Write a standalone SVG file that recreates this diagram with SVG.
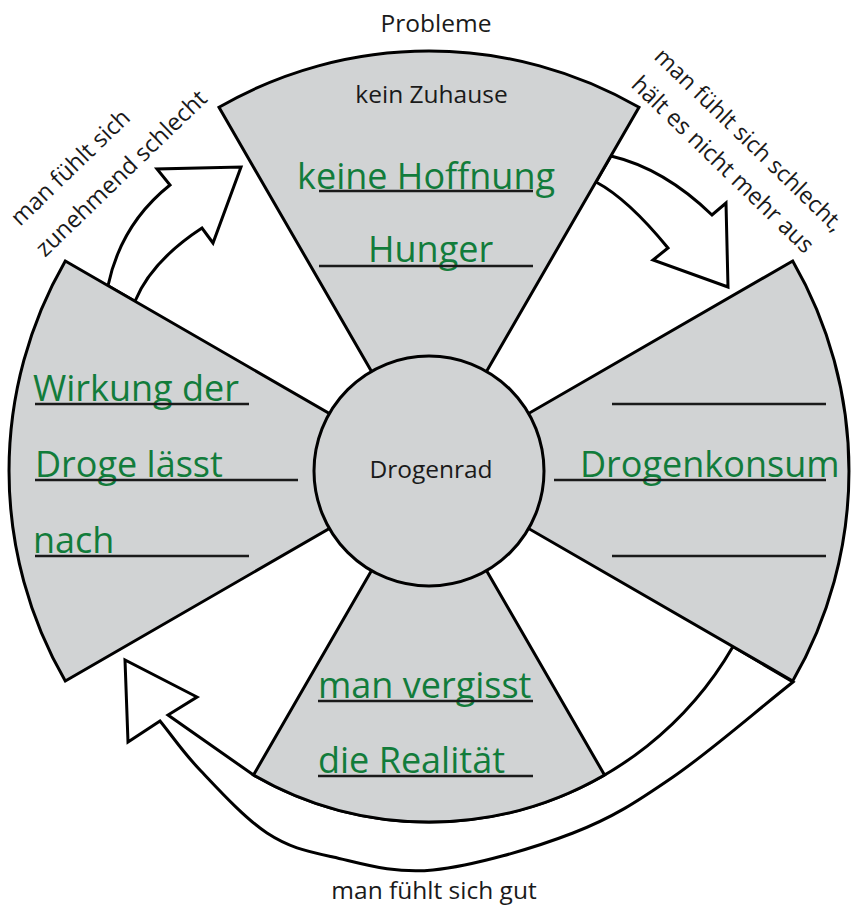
<svg xmlns="http://www.w3.org/2000/svg" width="859" height="908" viewBox="0 0 859 908">
<style>
.sec{fill:#d1d3d4;stroke:#000;stroke-width:3;stroke-linejoin:miter}
.arr{fill:#fff;stroke:#000;stroke-width:3;stroke-linejoin:miter}
.lbl{font-family:"Open Sans","Liberation Sans",sans-serif;font-size:24.5px;fill:#1a1a1a}
.rot{font-family:"Open Sans","Liberation Sans",sans-serif;font-size:23.5px;fill:#1a1a1a}
.hw{font-family:"Open Sans","Liberation Sans",sans-serif;font-size:36px;fill:#127c3b}
.ul{stroke:#1a1a1a;stroke-width:2.5;fill:none}
</style>
<rect width="859" height="908" fill="#fff"/>
<g id="connectors">
  <path class="arr" d="M733 646.5 L793 682 C753 713.7 709.7 751.8 673 777 C636.3 802.2 613 817.5 573 833 C533 848.5 473 866 433 870 C393 874 360.7 863.2 333 857 C305.3 850.8 289.2 847.5 267 833 C244.8 818.5 217.8 788.7 200 770 C182.2 751.3 173.3 737.3 160 721 L128 742 L125 660 L197 697 L168 715 L253.5 775 A351 351 0 0 0 733 646.5 Z"/>
  <path class="arr" d="M108 285.7 Q121 224 170 185 L157 169 L241 167 L213 243 L202 228 Q151.5 261 135 301.2 Z"/>
  <path class="arr" d="M611 156 Q664 168.5 712 215 L726 203 L728 287 L653 260 L668 248 Q628 199 596 182 Z"/>
  <text class="rot" transform="translate(20,227) rotate(-44)">man fühlt sich</text>
  <text class="rot" transform="translate(45,258) rotate(-44)">zunehmend schlecht</text>
  <text class="rot" style="font-size:23px" transform="translate(653,58) rotate(44)">man fühlt sich schlecht,</text>
  <text class="rot" transform="translate(630,86) rotate(44)">hält es nicht mehr aus</text>
  <text class="lbl" x="434" y="899" text-anchor="middle">man fühlt sich gut</text>
</g>
<g id="top-sector">
  <path class="sec" d="M429 471 L219 107.3 A420 420 0 0 1 639 107.3 Z"/>
  <text class="lbl" x="436" y="32" text-anchor="middle">Probleme</text>
  <text class="lbl" x="431.5" y="103" text-anchor="middle">kein Zuhause</text>
  <text class="hw" x="297" y="189">keine Hoffnung</text>
  <line class="ul" x1="319" y1="191" x2="533" y2="191"/>
  <text class="hw" x="368" y="262">Hunger</text>
  <line class="ul" x1="319" y1="266" x2="533" y2="266"/>
</g>
<g id="right-sector">
  <path class="sec" d="M429 471 L792.7 261 A420 420 0 0 1 792.7 681 Z"/>
  <line class="ul" x1="612" y1="404" x2="826" y2="404"/>
  <text class="hw" x="580" y="477">Drogenkonsum</text>
  <line class="ul" x1="554" y1="480" x2="826" y2="480"/>
  <line class="ul" x1="612" y1="556" x2="826" y2="556"/>
</g>
<g id="bottom-sector">
  <path class="sec" d="M429 471 L604.5 775 A351 351 0 0 1 253.5 775 Z"/>
  <text class="hw" x="318" y="698">man vergisst</text>
  <line class="ul" x1="318" y1="701" x2="533" y2="701"/>
  <text class="hw" x="318" y="773">die Realität</text>
  <line class="ul" x1="318" y1="776" x2="533" y2="776"/>
</g>
<g id="left-sector">
  <path class="sec" d="M429 471 L65.3 681 A420 420 0 0 1 65.3 261 Z"/>
  <text class="hw" x="33" y="401">Wirkung der</text>
  <line class="ul" x1="35" y1="404" x2="249" y2="404"/>
  <text class="hw" x="35" y="477">Droge lässt</text>
  <line class="ul" x1="35" y1="480" x2="298" y2="480"/>
  <text class="hw" x="33" y="553">nach</text>
  <line class="ul" x1="35" y1="556" x2="249" y2="556"/>
</g>
<g id="hub">
  <circle class="sec" cx="429" cy="471" r="115"/>
  <text class="lbl" x="431" y="478" text-anchor="middle">Drogenrad</text>
</g>
</svg>
